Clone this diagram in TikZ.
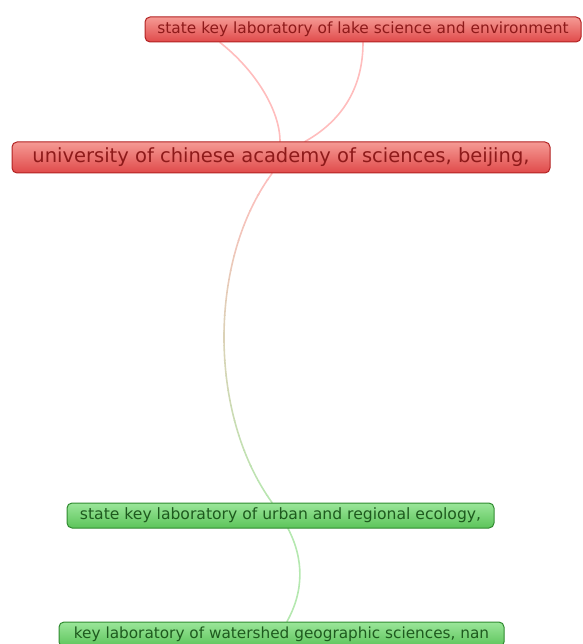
\documentclass[tikz,border=0pt]{standalone}
\usepackage{fontspec}
\setmainfont{DejaVu Sans}
\usetikzlibrary{calc,backgrounds}
\definecolor{redfillT}{HTML}{F59A94}
\definecolor{redfillB}{HTML}{E04A4A}
\definecolor{redborder}{HTML}{B22222}
\definecolor{redtext}{HTML}{8E1A1A}
\definecolor{greenfillT}{HTML}{9BE69A}
\definecolor{greenfillB}{HTML}{5CC45A}
\definecolor{greenborder}{HTML}{2F8A2F}
\definecolor{greentext}{HTML}{1E5A1E}
\definecolor{edgered}{HTML}{FFBDBD}
\definecolor{edgegreen}{HTML}{B5E8B0}
\begin{document}
\begin{tikzpicture}[x=1pt,y=-1pt,
  box/.style={rounded corners=5pt, draw, line width=1pt, inner sep=0pt, anchor=center},
  redbox/.style={box, draw=redborder, top color=redfillT, bottom color=redfillB, text=redtext},
  greenbox/.style={box, draw=greenborder, top color=greenfillT, bottom color=greenfillB, text=greentext},
  txt/.style={font=\fontsize{#1}{#1}\selectfont},
  edge/.style={line width=1.6pt, line cap=round}]
\useasboundingbox (0,0) rectangle (582,644);

\node[redbox, txt=15.4, minimum width=436pt, minimum height=25pt] (lake) at (363,29.5)
  {state key laboratory of lake science and environment};
\node[redbox, txt=19.5, minimum width=538pt, minimum height=31pt] (ucas) at (281,157.5)
  {university of chinese academy of sciences, beijing,};
\node[greenbox, txt=15.6, minimum width=427pt, minimum height=25pt] (urban) at (280.5,515.5)
  {state key laboratory of urban and regional ecology,};
\node[greenbox, txt=15.3, minimum width=445pt, minimum height=25pt] (water) at (281.5,634.5)
  {key laboratory of watershed geographic sciences, nan};

\begin{pgfonlayer}{background}
  \draw[edge, draw=edgered] ($(lake.south)+(-143,0)$) .. controls (255,70) and (280,110) .. ($(ucas.north)+(-1,0)$);
  \draw[edge, draw=edgered] (lake.south) .. controls (363,90) and (340,122) .. ($(ucas.north)+(24,0)$);
  \foreach \i in {0,...,23} {
    \pgfmathsetmacro\ya{165+\i*15}
    \pgfmathsetmacro\yb{\ya+15.5}
    \pgfmathtruncatemacro\p{100-\i*100/23}
    \begin{scope}
      \clip (0,\ya) rectangle (582,\yb);
      \draw[edge, draw=edgered!\p!edgegreen] ($(ucas.south)+(-9,0)$) .. controls (208,260) and (208,414) .. ($(urban.north)+(-8.5,0)$);
    \end{scope}
  }
  \draw[edge, draw=edgegreen] ($(urban.south)+(7.5,0)$) .. controls (304,559) and (304,591) .. ($(water.north)+(5.5,0)$);
\end{pgfonlayer}
\end{tikzpicture}
\end{document}
